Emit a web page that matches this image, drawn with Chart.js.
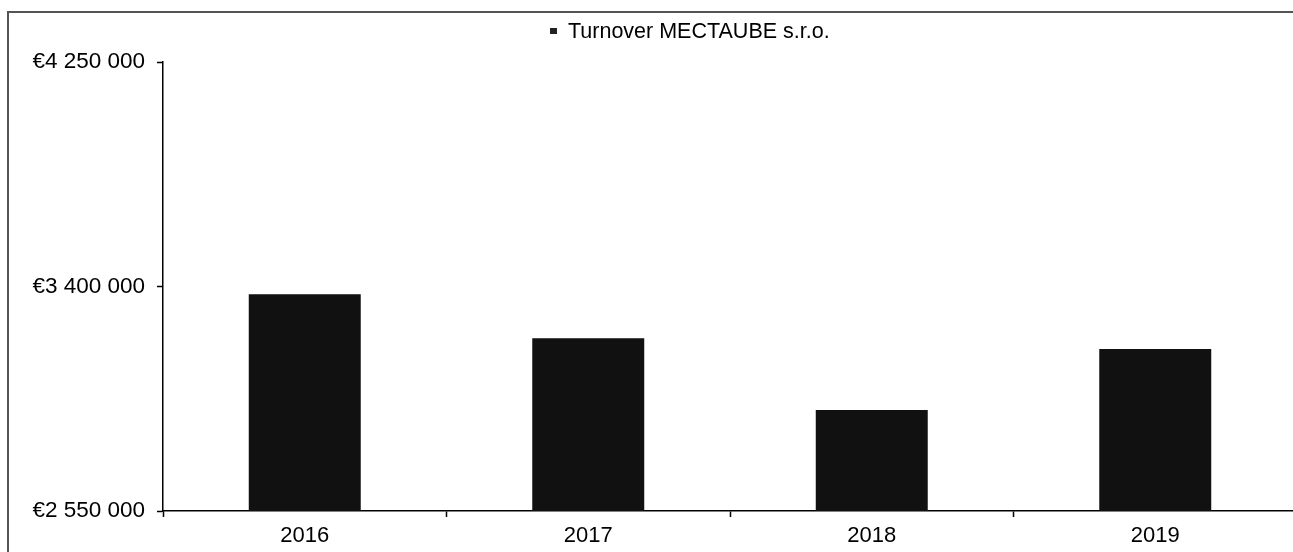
<!DOCTYPE html>
<html>
<head>
<meta charset="utf-8">
<title>Turnover MECTAUBE s.r.o.</title>
<script src="https://cdn.jsdelivr.net/npm/chart.js@4/dist/chart.umd.min.js"></script>
<style>
    html, body { margin: 0; padding: 0; background: #fff; overflow: hidden; }
    #wrap { position: relative; width: 1293px; height: 552px; overflow: hidden; }
    #frame {
        position: absolute; left: 7px; top: 11px; width: 1400px; height: 600px;
        border-left: 2px solid #555; border-top: 2px solid #555;
    }
    #chart { position: absolute; left: 0; top: 0; }
    #legend {
        position: absolute; left: 550px; top: 19px;
        font: 21.5px "Liberation Sans", Arial, sans-serif; line-height: 24px; color: #000;
        white-space: nowrap;
    }
    #legend .box {
        display: inline-block; width: 7px; height: 6px; background: #222;
        vertical-align: 4px; margin-right: 11px;
    }
</style>
</head>
<body>
<div id="wrap">
    <div id="frame"></div>
    <canvas id="chart" width="1300" height="552"></canvas>
    <div id="legend"></div>
</div>
<script>
// chart data
const years = ['2016', '2017', '2018', '2019'];
const turnover = [3370500, 3204000, 2932000, 3163000];
const yTicks = [2550000, 3400000, 4250000];
const seriesLabel = 'Turnover MECTAUBE s.r.o.';

function euro(v) {
    return '€' + String(v).replace(/\B(?=(\d{3})+(?!\d))/g, ' ');
}

document.getElementById('legend').innerHTML = '<span class="box"></span>' + seriesLabel;

const ctx = document.getElementById('chart').getContext('2d');
const fontFamily = '"Liberation Sans", Arial, sans-serif';

const chart = new Chart(ctx, {
    type: 'bar',
    data: {
        labels: years,
        datasets: [{
            label: seriesLabel,
            data: turnover,
            backgroundColor: '#111',
            borderWidth: 0,
            barPercentage: 0.395,
            categoryPercentage: 1
        }]
    },
    options: {
        responsive: false,
        animation: false,
        layout: {
            padding: { top: 62, right: 3, left: 0, bottom: 0 }
        },
        plugins: {
            legend: { display: false },
            tooltip: { enabled: false }
        },
        scales: {
            x: {
                grid: {
                    drawOnChartArea: false,
                    drawTicks: true,
                    tickLength: 6,
                    tickColor: '#000',
                    tickWidth: 1.5
                },
                border: { color: '#000', width: 1.5 },
                ticks: {
                    color: '#000',
                    padding: 6,
                    font: { family: fontFamily, size: 22 }
                },
                afterFit: function(axis) {
                    axis.height = 41;
                }
            },
            y: {
                min: yTicks[0],
                max: yTicks[yTicks.length - 1],
                afterBuildTicks: function(axis) {
                    axis.ticks = yTicks.map(v => ({ value: v }));
                },
                grid: {
                    drawOnChartArea: false,
                    drawTicks: true,
                    tickLength: 6,
                    tickColor: '#000',
                    tickWidth: 1.5
                },
                border: { color: '#000', width: 1.5 },
                ticks: {
                    color: '#000',
                    padding: 12,
                    font: { family: fontFamily, size: 22.5 },
                    callback: function(value) {
                        return euro(value);
                    }
                },
                afterFit: function(axis) {
                    axis.width = 163;
                }
            }
        }
    }
});
</script>
</body>
</html>
